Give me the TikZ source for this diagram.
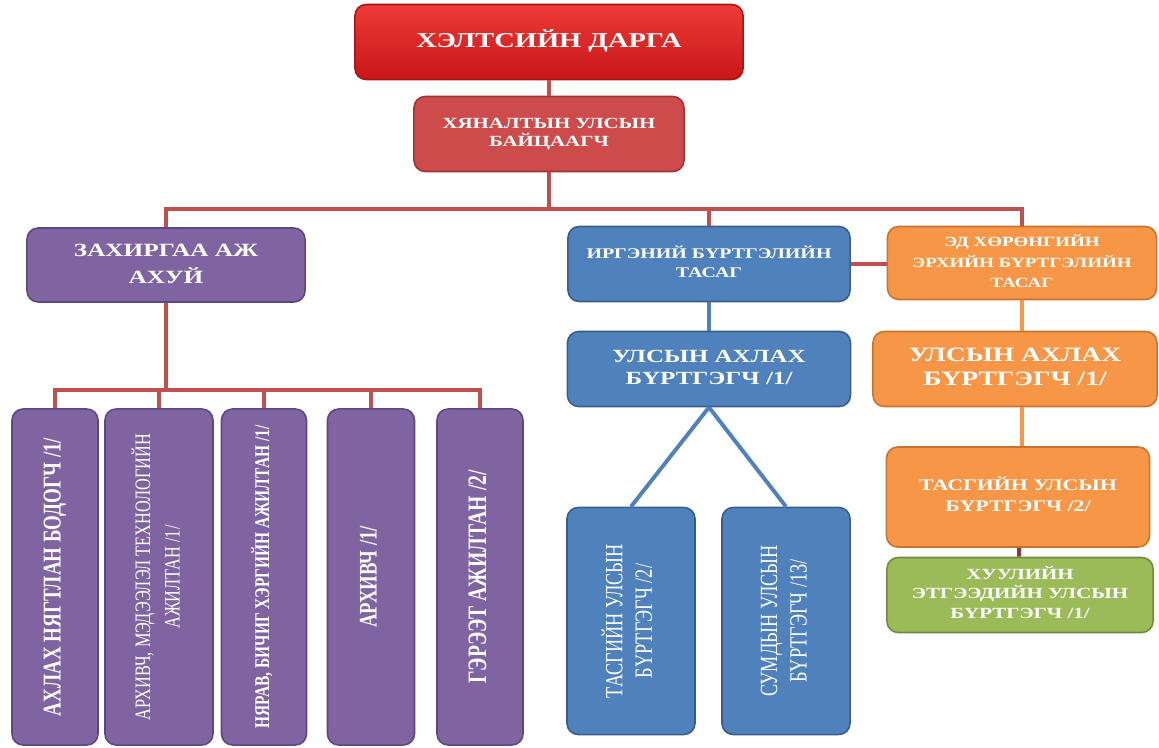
\documentclass[tikz,border=0pt]{standalone}
\usepackage{fontspec}
\setmainfont{Liberation Serif}
\usepackage{graphicx}
\usepackage{tikz}
\usetikzlibrary{positioning,calc}
\definecolor{lnred}{HTML}{C0504D}
\definecolor{lndark}{HTML}{953735}
\definecolor{headtop}{HTML}{EE3B36}
\definecolor{headbot}{HTML}{C8161A}
\definecolor{headrim}{HTML}{A81414}
\definecolor{insfill}{HTML}{CD4C4B}
\definecolor{insrim}{HTML}{9E3534}
\definecolor{purfill}{HTML}{8064A2}
\definecolor{purrim}{HTML}{5C4782}
\definecolor{blufill}{HTML}{4F81BD}
\definecolor{blurim}{HTML}{385D8A}
\definecolor{orafill}{HTML}{F79646}
\definecolor{orarim}{HTML}{C8732E}
\definecolor{grnfill}{HTML}{9BBB59}
\definecolor{grnrim}{HTML}{71893F}
\newcommand{\widetxt}[1]{\scalebox{1.35}[1]{\begin{tabular}{@{}c@{}}#1\end{tabular}}}
\newcommand{\sidetxt}[1]{\scalebox{1.35}[1]{\rotatebox{90}{\begin{tabular}{@{}c@{}}#1\end{tabular}}}}
\tikzstyle{box} = [rectangle, rounded corners=0.28cm, line width=1.1pt, text=white, inner sep=1pt, font=\bfseries]
\tikzstyle{headbox} = [box, top color=headtop, bottom color=headbot, draw=headrim]
\tikzstyle{insbox} = [box, fill=insfill, draw=insrim]
\tikzstyle{purbox} = [box, fill=purfill, draw=purrim]
\tikzstyle{blubox} = [box, fill=blufill, draw=blurim]
\tikzstyle{orabox} = [box, fill=orafill, draw=orarim]
\tikzstyle{grnbox} = [box, fill=grnfill, draw=grnrim]
\tikzstyle{redline} = [draw=lnred, line width=2.8pt]
\tikzstyle{darkline} = [draw=lndark, line width=2.8pt]
\tikzstyle{blueline} = [draw=blufill, line width=2.8pt]
\tikzstyle{orangeline} = [draw=orafill, line width=2.8pt]

\begin{document}
\begin{tikzpicture}[x=0.025cm, y=-0.025cm]
        \useasboundingbox (0,0) rectangle (1159,748);
        % head and inspector
        \node[headbox, minimum width=9.7cm, minimum height=1.875cm, font=\bfseries\fontsize{15}{18}\selectfont] (dep) at (549,42) {\widetxt{ХЭЛТСИЙН ДАРГА}};
        \node[insbox, minimum width=6.75cm, minimum height=1.875cm, font=\bfseries\fontsize{11}{13}\selectfont] (insp) at (549,134) {\widetxt{ХЯНАЛТЫН УЛСЫН\\БАЙЦААГЧ}};
        % departments
        \node[purbox, minimum width=6.95cm, minimum height=1.85cm, font=\bfseries\fontsize{13.3}{19}\selectfont] (admin) at (166,265) {\widetxt{ЗАХИРГАА АЖ\\АХУЙ}};
        \node[blubox, minimum width=7.05cm, minimum height=1.875cm, font=\bfseries\fontsize{10.5}{14}\selectfont] (cit) at (709,264) {\widetxt{ИРГЭНИЙ БҮРТГЭЛИЙН\\ТАСАГ}};
        \node[orabox, minimum width=6.725cm, minimum height=1.825cm, font=\bfseries\fontsize{10}{14.5}\selectfont] (prop) at (1022,263) {\widetxt{ЭД ХӨРӨНГИЙН\\ЭРХИЙН БҮРТГЭЛИЙН\\ТАСАГ}};
        % admin staff
        \node[purbox, minimum width=2.15cm, minimum height=8.4cm, font=\bfseries\fontsize{13.5}{15}\selectfont] (c1) at (55,577) {\sidetxt{АХЛАХ НЯГТЛАН БОДОГЧ /1/}};
        \node[purbox, minimum width=2.7cm, minimum height=8.4cm, font=\mdseries\fontsize{11.6}{15.5}\selectfont] (c2) at (159,577) {\sidetxt{АРХИВЧ, МЭДЭЭЛЭЛ ТЕХНОЛОГИЙН\\АЖИЛТАН /1/}};
        \node[purbox, minimum width=2.125cm, minimum height=8.4cm, font=\bfseries\fontsize{11}{13}\selectfont] (c3) at (264,577) {\sidetxt{НЯРАВ, БИЧИГ ХЭРГИЙН АЖИЛТАН /1/}};
        \node[purbox, minimum width=2.175cm, minimum height=8.4cm, font=\bfseries\fontsize{13.3}{15}\selectfont] (c4) at (371,577) {\sidetxt{АРХИВЧ /1/}};
        \node[purbox, minimum width=2.15cm, minimum height=8.4cm, font=\bfseries\fontsize{14}{16}\selectfont] (c5) at (480,577) {\sidetxt{ГЭРЭЭТ АЖИЛТАН /2/}};
        % civil registration
        \node[blubox, minimum width=7.075cm, minimum height=1.875cm, font=\bfseries\fontsize{13.2}{16}\selectfont] (csr) at (709,369) {\widetxt{УЛСЫН АХЛАХ\\БҮРТГЭГЧ /1/}};
        \node[blubox, minimum width=3.2cm, minimum height=5.675cm, font=\mdseries\fontsize{13}{15.5}\selectfont] (bA) at (631,621) {\sidetxt{ТАСГИЙН УЛСЫН\\БҮРТГЭГЧ /2/}};
        \node[blubox, minimum width=3.2cm, minimum height=5.675cm, font=\mdseries\fontsize{13}{15.5}\selectfont] (bB) at (786,621) {\sidetxt{СУМДЫН УЛСЫН\\БҮРТГЭГЧ /13/}};
        % property registration
        \node[orabox, minimum width=7.1cm, minimum height=1.875cm, font=\bfseries\fontsize{14.5}{17}\selectfont] (osr) at (1015,369) {\widetxt{УЛСЫН АХЛАХ\\БҮРТГЭГЧ /1/}};
        \node[orabox, minimum width=6.575cm, minimum height=2.5cm, font=\bfseries\fontsize{11.5}{15}\selectfont] (otr) at (1018,497) {\widetxt{ТАСГИЙН УЛСЫН\\БҮРТГЭГЧ /2/}};
        \node[grnbox, minimum width=6.65cm, minimum height=1.875cm, font=\bfseries\fontsize{11}{14}\selectfont] (leg) at (1020,595) {\widetxt{ХУУЛИЙН\\ЭТГЭЭДИЙН УЛСЫН\\БҮРТГЭГЧ /1/}};
        % connectors
        \coordinate (bus) at (549,209);
        \coordinate (abus) at (166,390);
        \draw[redline] (dep) -- (insp);
        \draw[redline] (insp.south) -- (bus);
        \draw[redline] (admin.north) |- (bus) -| (prop.north);
        \draw[redline] (cit.north) -- (cit.north |- bus);
        \draw[redline] (cit.east) -- (cit.east -| prop.west);
        \draw[redline] (admin.south) -- (abus);
        \draw[redline] (c1.north) |- (abus) -| (c5.north);
        \foreach \n in {c2,c3,c4}
          \draw[redline] (\n.north) -- (\n.north |- abus);
        \draw[blueline] (cit) -- (csr);
        \draw[blueline] (csr.south) -- (bA.north);
        \draw[blueline] (csr.south) -- (bB.north);
        \draw[orangeline] (prop.south) -- (prop.south |- osr.north);
        \draw[orangeline] (osr.south -| prop) -- (prop |- otr.north);
        \draw[darkline] (otr) -- (leg);
\end{tikzpicture}
\end{document}
